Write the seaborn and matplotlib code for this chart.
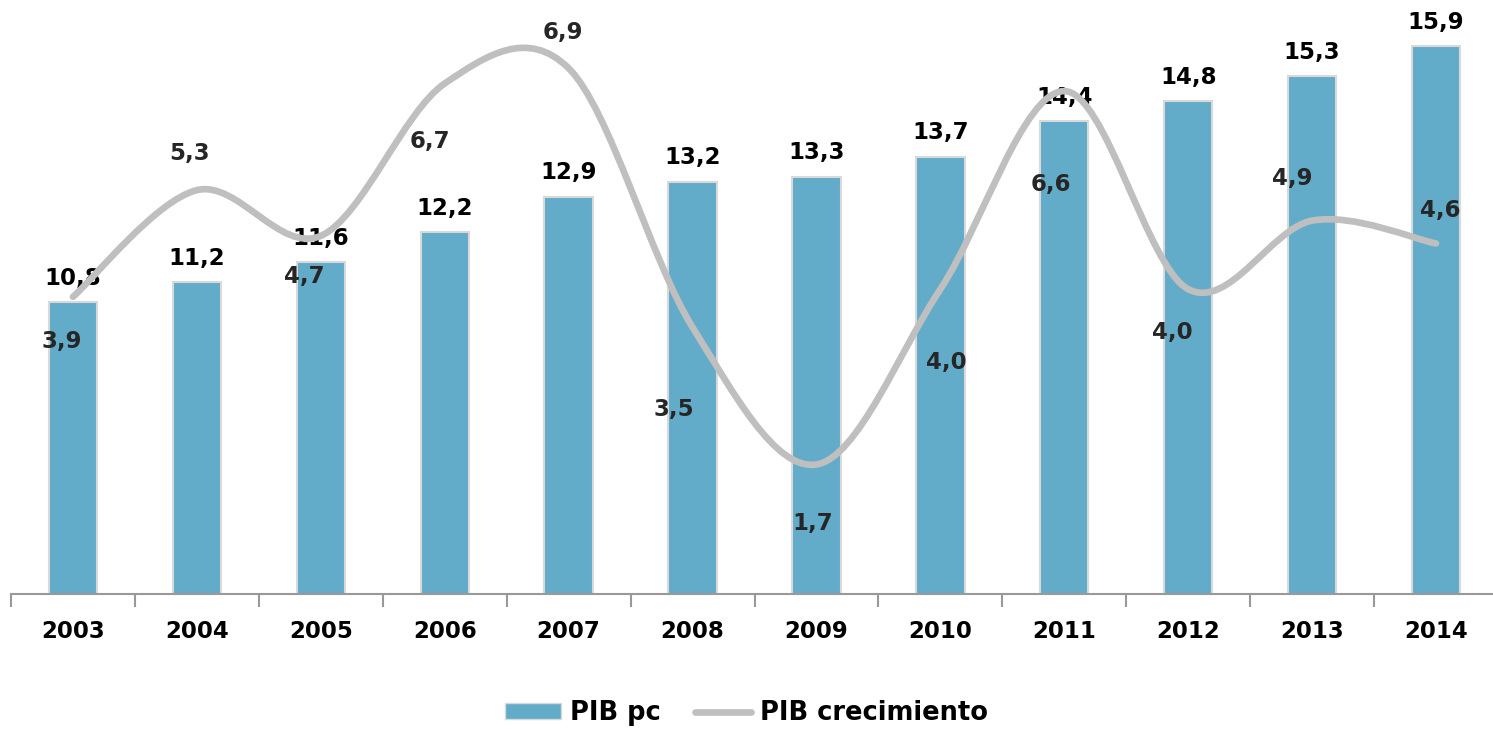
from matplotlib import pyplot as plt
from matplotlib.path import Path
from matplotlib.patches import PathPatch, Patch
from matplotlib.lines import Line2D
import numpy as np
import pandas as pd
import seaborn as sns

sns.set_theme(style='white')
plt.rcParams['font.family'] = ['DejaVu Sans']
plt.rcParams['font.weight'] = 'bold'

years = ['2003', '2004', '2005', '2006', '2007', '2008',
         '2009', '2010', '2011', '2012', '2013', '2014']
pib_pc = [10.8, 11.2, 11.6, 12.2, 12.9, 13.2, 13.3, 13.7, 14.4, 14.8, 15.3, 15.9]
pib_crec = [3.9, 5.3, 4.7, 6.7, 6.9, 3.5, 1.7, 4.0, 6.6, 4.0, 4.9, 4.6]

# label offsets of the growth values, in pixels (dx, dy up)
crec_offsets = [(-11, -45), (-7, 37), (-16, -41), (-15, -58), (-6, 36), (-19, -82),
                (-4, -59), (6, -73), (-13, -93), (-16, -43), (-20, 42), (4, 33)]

BAR = '#62ACCA'
LINE = '#BFBFBF'
FS = 16.5


def smooth_path(xs, ys):
    # catmull-rom through the points, as cubic bezier segments
    pts = np.column_stack([xs, ys]).astype(float)
    verts = [pts[0]]
    codes = [Path.MOVETO]
    n = len(pts)
    for i in range(n - 1):
        p0 = pts[max(i - 1, 0)]
        p1 = pts[i]
        p2 = pts[i + 1]
        p3 = pts[min(i + 2, n - 1)]
        c1 = p1 + (p2 - p0) / 6
        c2 = p2 - (p3 - p1) / 6
        verts += [c1, c2, p2]
        codes += [Path.CURVE4] * 3
    return Path(verts, codes)


fig = plt.figure(figsize=(14.93, 7.29), dpi=100)
ax = fig.add_axes([11 / 1493, 135 / 729, 1487 / 1493, 553 / 729])

df = pd.DataFrame({'year': years, 'pib_pc': pib_pc, 'pib_crec': pib_crec})
sns.barplot(data=df, x='year', y='pib_pc', ax=ax, color=BAR, saturation=1,
            width=0.39, edgecolor='#D9D9D9', linewidth=1.5)
ax.set_ylim(5, 16)
ax.set_xlim(-0.5, len(years) - 0.5)
ax.set_xlabel('')
ax.set_ylabel('')
ax.set_yticks([])
for s in ['left', 'right', 'top']:
    ax.spines[s].set_visible(False)
ax.spines['bottom'].set_color('#999999')
ax.spines['bottom'].set_linewidth(1.5)
ax.tick_params(axis='x', which='major', length=0, pad=19, labelsize=FS, labelcolor='black')
ax.set_xticks(np.arange(-0.5, len(years)), minor=True)
ax.tick_params(axis='x', which='minor', bottom=True, length=9, width=1.5,
               color='#999999', direction='out')

ax.bar_label(ax.containers[0], labels=[f'{v:.1f}'.replace('.', ',') for v in pib_pc],
             padding=9, fontsize=FS, fontweight='bold', color='black')

ax2 = ax.twinx()
ax2.set_ylim(0, 553 / 76.2)
ax2.set_yticks([])
for s in ax2.spines.values():
    s.set_visible(False)
path = smooth_path(np.arange(len(years)), pib_crec)
ax2.add_patch(PathPatch(path, facecolor='none', edgecolor=LINE, lw=4.8, capstyle='round'))

for i, (v, (dx, dy)) in enumerate(zip(pib_crec, crec_offsets)):
    ax2.annotate(f'{v:.1f}'.replace('.', ','), xy=(i, v), xytext=(dx, dy),
                 textcoords='offset pixels', ha='center', va='center',
                 fontsize=FS, fontweight='bold', color='#262626')

handles = [Patch(facecolor=BAR, edgecolor='#D9D9D9'),
           Line2D([], [], color=LINE, lw=4.8, solid_capstyle='round')]
fig.legend(handles, ['PIB pc', 'PIB crecimiento'], loc='center', bbox_to_anchor=(0.5, 16 / 729),
           ncol=2, frameon=False, handlelength=2.2, handleheight=0.55,
           handletextpad=0.35, columnspacing=1.3, labelcolor='black',
           prop={'weight': 'bold', 'size': 18.5})

fig.savefig('out.png', dpi=100)
